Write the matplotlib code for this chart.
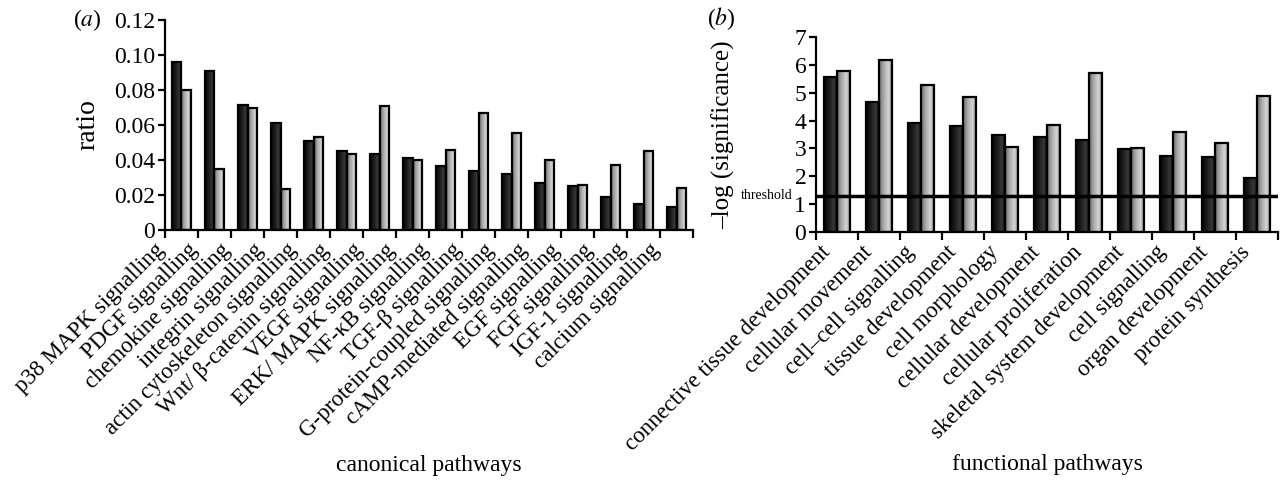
import matplotlib
matplotlib.use("Agg")
import matplotlib.pyplot as plt
from matplotlib.transforms import offset_copy
import numpy as np

plt.rcParams['font.family'] = ['Liberation Serif', 'DejaVu Serif']
plt.rcParams['mathtext.fontset'] = 'stix'

# panel (a): canonical pathways
canon_labels = ['p38 MAPK signalling', 'PDGF signalling', 'chemokine signalling',
                'integrin signalling', 'actin cytoskeleton signalling',
                'Wnt/ β-catenin signalling', 'VEGF signalling', 'ERK/ MAPK signalling',
                'NF-κB signalling', 'TGF-β signalling', 'G-protein-coupled signalling',
                'cAMP-mediated signalling', 'EGF signalling', 'FGF signalling',
                'IGF-1 signalling', 'calcium signalling']
canon_dark = [0.096, 0.091, 0.0715, 0.061, 0.051, 0.045, 0.0435, 0.041,
              0.0365, 0.034, 0.032, 0.027, 0.025, 0.019, 0.015, 0.013]
canon_light = [0.080, 0.035, 0.070, 0.0235, 0.053, 0.0435, 0.071, 0.040,
               0.046, 0.067, 0.0555, 0.040, 0.026, 0.037, 0.045, 0.024]

# panel (b): functional pathways
func_labels = ['connective tissue development', 'cellular movement',
               'cell–cell signalling', 'tissue development', 'cell morphology',
               'cellular development', 'cellular proliferation',
               'skeletal system development', 'cell signalling',
               'organ development', 'protein synthesis']
func_dark = [5.58, 4.68, 3.92, 3.82, 3.47, 3.40, 3.31, 2.98, 2.72, 2.69, 1.95]
func_light = [5.77, 6.17, 5.28, 4.86, 3.04, 3.85, 5.72, 3.01, 3.59, 3.21, 4.87]
threshold = 1.3

# horizontal shading profiles for the bars
pos = [0.0, 0.35, 0.75, 1.0]
dark_prof = [0.02, 0.10, 0.22, 0.08]
light_prof = [0.42, 0.66, 0.84, 0.52]


def shaded_bars(ax, x, h, w, prof):
    bars = ax.bar(x, h, w, color='none', edgecolor='black', linewidth=1.6, zorder=3)
    t = np.linspace(0, 1, 64)
    g = np.interp(t, pos, prof)
    img = np.dstack([g, g, g])
    for b in bars:
        x0 = b.get_x()
        im = ax.imshow(img, extent=[x0, x0 + b.get_width(), 0, b.get_height()],
                       aspect='auto', interpolation='bilinear', zorder=2)
        im.set_clip_path(b)
    return bars


def setup(ax, labels, n, shift):
    ax.set_xlim(0, n)
    ax.spines['top'].set_visible(False)
    ax.spines['right'].set_visible(False)
    ax.spines['left'].set_linewidth(1.6)
    ax.spines['bottom'].set_linewidth(1.6)
    ax.set_xticks(np.arange(n + 1))
    ax.set_xticklabels([])
    ax.tick_params(axis='x', direction='out', length=6, width=1.6)
    ax.tick_params(axis='y', direction='out', length=5, width=1.6, labelsize=17, pad=2)
    tr = offset_copy(ax.get_xaxis_transform(), fig=fig, x=0, y=-17, units='dots')
    for i, lab in enumerate(labels):
        ax.text(i + 0.5 + shift, 0, lab, transform=tr, rotation=45,
                rotation_mode='anchor', ha='right', va='center', fontsize=16.5)


fig = plt.figure(figsize=(12.82, 4.82), dpi=100)
ax1 = fig.add_axes([0.1287, 0.5228, 0.4119, 0.4357])
ax2 = fig.add_axes([0.6365, 0.5187, 0.3604, 0.4046])

w = 0.3
x1 = np.arange(len(canon_labels)) + 0.5
shaded_bars(ax1, x1 - w / 2, canon_dark, w, dark_prof)
shaded_bars(ax1, x1 + w / 2, canon_light, w, light_prof)
setup(ax1, canon_labels, len(canon_labels), -0.62)
ax1.set_ylim(0, 0.12)
ax1.set_yticks([0, 0.02, 0.04, 0.06, 0.08, 0.10, 0.12])
ax1.set_yticklabels(['0', '0.02', '0.04', '0.06', '0.08', '0.10', '0.12'])
ax1.set_ylabel('ratio', fontsize=20)
ax1.yaxis.set_label_coords(-0.123, 0.5)
ax1.set_xlabel('canonical pathways', fontsize=17)
ax1.xaxis.set_label_coords(0.5, -1.07)

x2 = np.arange(len(func_labels)) + 0.5
shaded_bars(ax2, x2 - w / 2, func_dark, w, dark_prof)
shaded_bars(ax2, x2 + w / 2, func_light, w, light_prof)
setup(ax2, func_labels, len(func_labels), -0.24)
ax2.set_ylim(0, 7)
ax2.set_yticks(range(8))
ax2.axhline(threshold, color='black', linewidth=2.5, zorder=4)
ax2.text(-0.05, threshold, 'threshold', transform=ax2.get_yaxis_transform(),
         ha='right', va='center', fontsize=10)
ax2.set_ylabel('–log (significance)', fontsize=18)
ax2.yaxis.set_label_coords(-0.175, 0.5)
ax2.set_xlabel('functional pathways', fontsize=17)
ax2.xaxis.set_label_coords(0.5, -1.14)

fig.text(0.068, 0.958, r'($\mathit{a}$)', fontsize=17, va='center', ha='center')
fig.text(0.563, 0.962, r'($\mathit{b}$)', fontsize=17, va='center', ha='center')

fig.savefig('out.png', dpi=100)
